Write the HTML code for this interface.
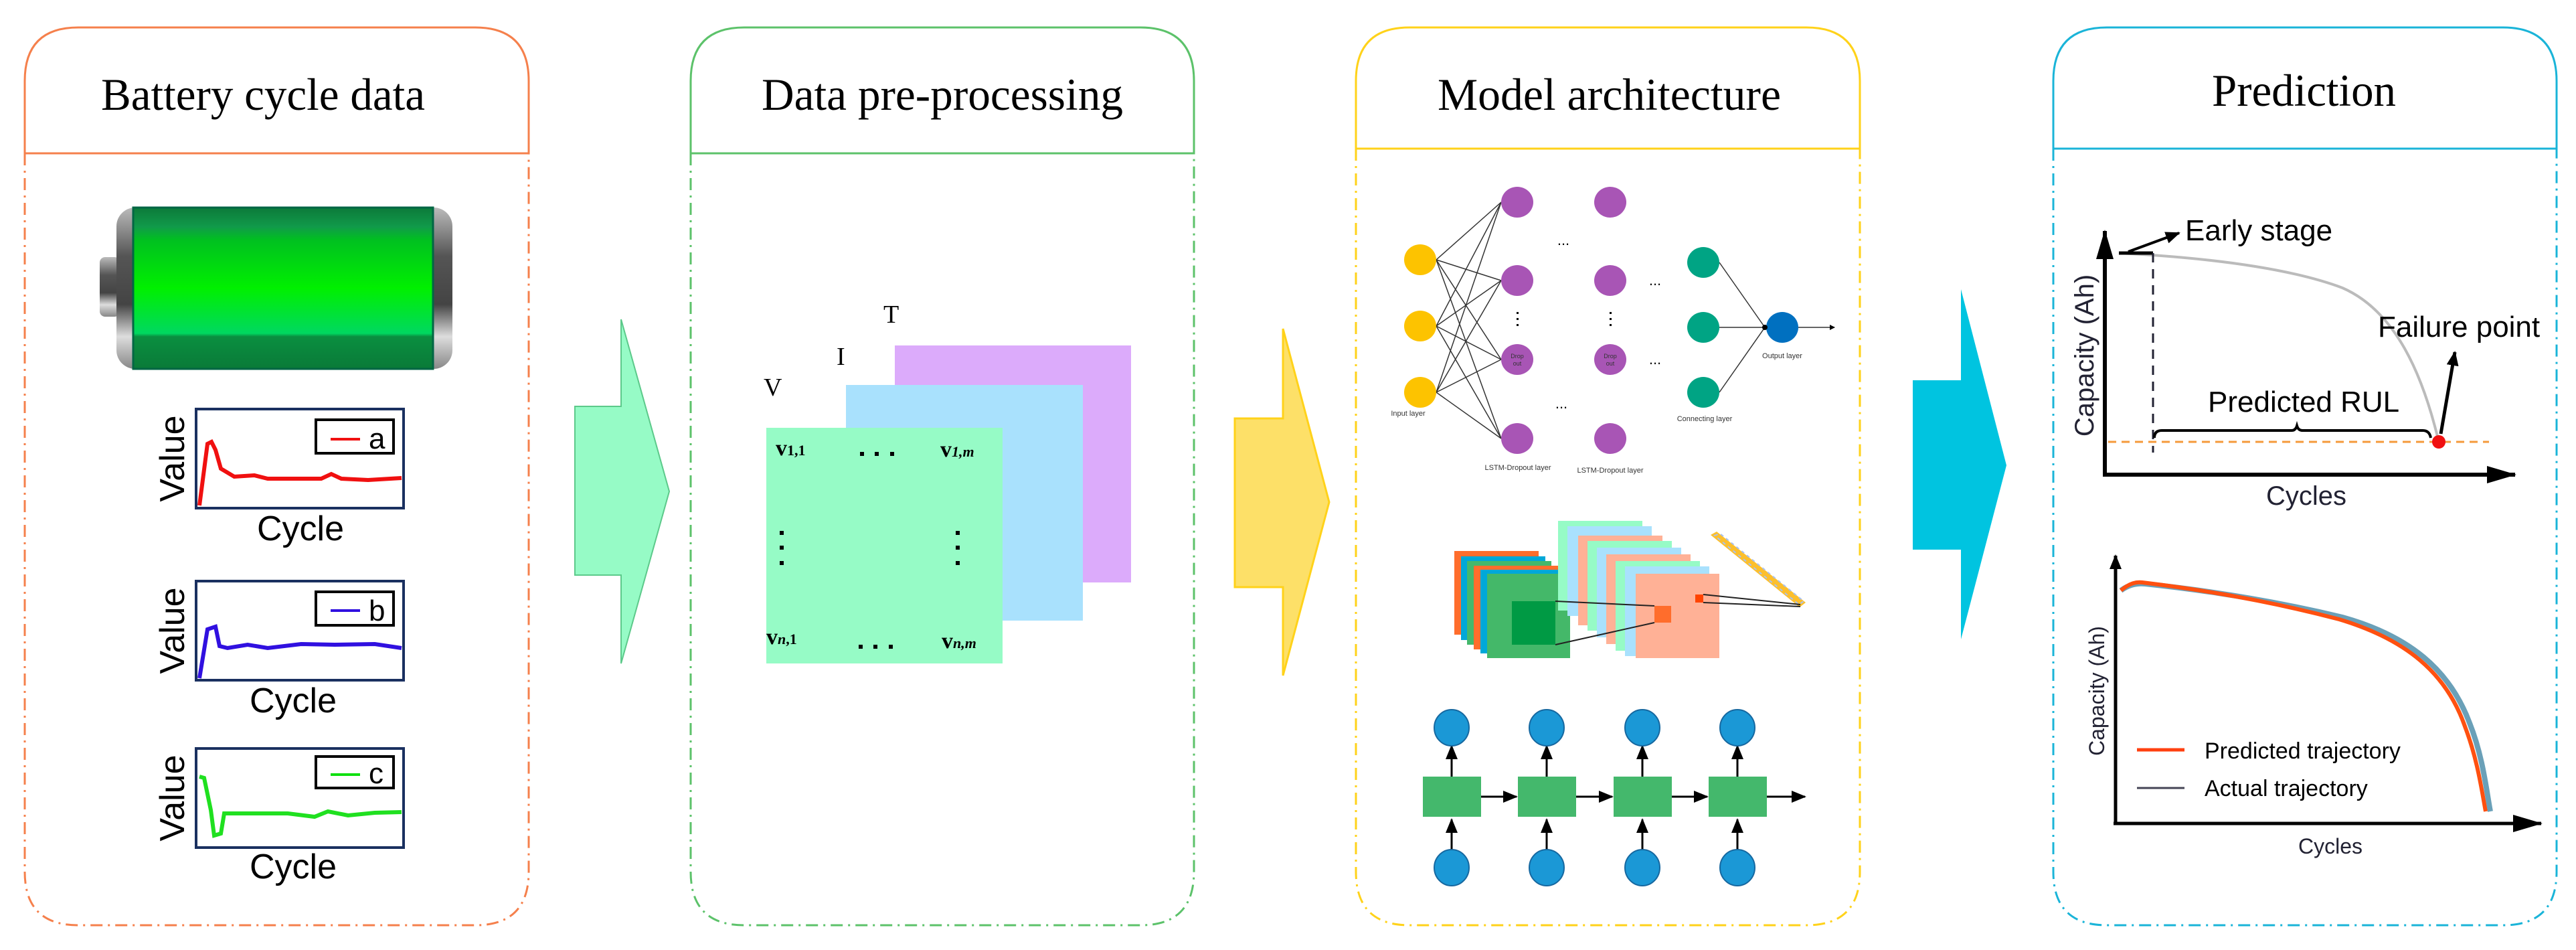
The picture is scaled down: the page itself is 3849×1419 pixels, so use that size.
<!DOCTYPE html>
<html><head><meta charset="utf-8"><style>
html,body{margin:0;padding:0;background:#fff;}
svg{display:block;}
</style></head><body>
<svg width="3849" height="1419" viewBox="0 0 3849 1419" xmlns="http://www.w3.org/2000/svg">
<defs>
<linearGradient id="bg" x1="0" y1="0" x2="0" y2="1">
<stop offset="0" stop-color="#0c7a3a"/><stop offset="0.12" stop-color="#119a4a"/><stop offset="0.2" stop-color="#00c020"/><stop offset="0.5" stop-color="#00f000"/><stop offset="0.78" stop-color="#00d860"/><stop offset="0.8" stop-color="#0a8f40"/><stop offset="1" stop-color="#0a7a38"/>
</linearGradient>
<linearGradient id="cap" x1="0" y1="0" x2="0" y2="1">
<stop offset="0" stop-color="#bbb"/><stop offset="0.3" stop-color="#555"/><stop offset="0.6" stop-color="#444"/><stop offset="0.8" stop-color="#ddd"/><stop offset="1" stop-color="#888"/>
</linearGradient>
<marker id="ah" markerWidth="8" markerHeight="8" refX="7" refY="4" orient="auto" markerUnits="userSpaceOnUse"><path d="M0,0 L8,4 L0,8z" fill="#000"/></marker>
<marker id="ahb" markerWidth="22" markerHeight="18" refX="20" refY="9" orient="auto" markerUnits="userSpaceOnUse"><path d="M0,0 L22,9 L0,18z" fill="#000"/></marker>
<marker id="ahm" markerWidth="44" markerHeight="26" refX="42" refY="13" orient="auto" markerUnits="userSpaceOnUse"><path d="M0,0 L44,13 L0,26z" fill="#000"/></marker>
</defs>

<g fill="none" stroke-width="3">
<g stroke="#f5804c">
<path d="M37,229 V121 Q37,41 117,41 H710 Q790,41 790,121 V229 Z"/>
<path d="M37,229 V1302 Q37,1382 117,1382 H710 Q790,1382 790,1302 V229" stroke-dasharray="18,8,3,8"/>
</g>
<g stroke="#5cc26a">
<path d="M1032,229 V121 Q1032,41 1112,41 H1704 Q1784,41 1784,121 V229 Z"/>
<path d="M1032,229 V1302 Q1032,1382 1112,1382 H1704 Q1784,1382 1784,1302 V229" stroke-dasharray="18,8,3,8"/>
</g>
<g stroke="#ffd21a">
<path d="M2026,222 V121 Q2026,41 2106,41 H2699 Q2779,41 2779,121 V222 Z"/>
<path d="M2026,222 V1302 Q2026,1382 2106,1382 H2699 Q2779,1382 2779,1302 V222" stroke-dasharray="18,8,3,8"/>
</g>
<g stroke="#1ab4d8">
<path d="M3068,222 V121 Q3068,41 3148,41 H3740 Q3820,41 3820,121 V222 Z"/>
<path d="M3068,222 V1302 Q3068,1382 3148,1382 H3740 Q3820,1382 3820,1302 V222" stroke-dasharray="18,8,3,8"/>
</g>
</g>

<g font-family="Liberation Serif, serif" font-size="68" fill="#000">
<text x="151" y="164" textLength="484" lengthAdjust="spacingAndGlyphs">Battery cycle data</text>
<text x="1138" y="164" textLength="540" lengthAdjust="spacingAndGlyphs">Data pre-processing</text>
<text x="2148" y="164" textLength="513" lengthAdjust="spacingAndGlyphs">Model architecture</text>
<text x="3305" y="158" textLength="275" lengthAdjust="spacingAndGlyphs">Prediction</text>
</g>

<path d="M859,607 H928 V477 L1000,734 L928,991 V859 H859 Z" fill="#96fbc6" stroke="#5cc98a" stroke-width="2"/>
<path d="M1845,625 H1917 V491 L1986,750 L1917,1009 V877 H1845 Z" fill="#fde068" stroke="#ffd21a" stroke-width="3"/>
<path d="M2858,568 H2930 V432 L2998,695 L2930,955 V821 H2858 Z" fill="#00c4e0"/>

<rect x="149" y="384" width="30" height="89" rx="8" fill="url(#cap)"/>
<rect x="174" y="310" width="502" height="241" rx="28" fill="url(#cap)"/>
<rect x="199" y="310" width="448" height="241" fill="url(#bg)" stroke="#064" stroke-width="3"/>

<g font-family="Liberation Sans, sans-serif" font-size="52" fill="#000">
<g fill="none" stroke-width="4">
<rect x="293" y="611" width="310" height="148" stroke="#1a3060"/>
<rect x="293" y="868" width="310" height="148" stroke="#1a3060"/>
<rect x="293" y="1118" width="310" height="148" stroke="#1a3060"/>
<rect x="472" y="627" width="116" height="50" stroke="#000"/>
<rect x="472" y="884" width="116" height="50" stroke="#000"/>
<rect x="472" y="1130" width="116" height="47" stroke="#000"/>
<line x1="494" y1="656" x2="538" y2="656" stroke="#f01010"/>
<line x1="494" y1="912" x2="538" y2="912" stroke="#3010e0"/>
<line x1="494" y1="1157" x2="538" y2="1157" stroke="#10e010"/>
<path d="M298,755 L310,663 L316,660 L322,672 L330,700 L350,712 L380,710 L400,715 L440,715 L480,715 L495,708 L510,715 L550,717 L600,714" stroke="#f01010" stroke-width="6"/>
<path d="M298,1013 L310,940 L322,936 L328,965 L340,968 L370,963 L400,968 L450,962 L500,963 L560,962 L600,968" stroke="#3010e0" stroke-width="6"/>
<path d="M298,1160 L305,1162 L315,1210 L320,1248 L330,1245 L335,1215 L380,1215 L430,1215 L470,1220 L490,1212 L520,1218 L560,1214 L600,1213" stroke="#20e020" stroke-width="6"/>
</g>
<text x="551" y="670" font-size="44">a</text>
<text x="551" y="927" font-size="44">b</text>
<text x="551" y="1170" font-size="44">c</text>
<text x="449" y="807" text-anchor="middle">Cycle</text>
<text x="438" y="1064" text-anchor="middle">Cycle</text>
<text x="438" y="1312" text-anchor="middle">Cycle</text>
<text transform="translate(275,685) rotate(-90)" text-anchor="middle">Value</text>
<text transform="translate(275,942) rotate(-90)" text-anchor="middle">Value</text>
<text transform="translate(275,1192) rotate(-90)" text-anchor="middle">Value</text>
</g>

<rect x="1337" y="516" width="353" height="354" fill="#dcabfb"/>
<rect x="1264" y="575" width="354" height="352" fill="#a9e1fd"/>
<rect x="1145" y="639" width="353" height="352" fill="#96fbc6"/>
<g font-family="Liberation Serif, serif" font-size="38" fill="#000">
<text x="1141" y="591">V</text><text x="1250" y="545">I</text><text x="1320" y="482">T</text>
</g>
<g font-family="Liberation Serif, serif" font-weight="bold" fill="#000">
<text x="1159" y="680" font-size="34">v<tspan font-size="22">1,1</tspan></text>
<text x="1405" y="682" font-size="34">v<tspan font-size="22" font-style="italic">1,m</tspan></text>
<text x="1145" y="962" font-size="34">v<tspan font-size="22" font-style="italic">n</tspan><tspan font-size="22">,1</tspan></text>
<text x="1407" y="968" font-size="34">v<tspan font-size="22" font-style="italic">n,m</tspan></text>
</g>
<g fill="#000">
<rect x="1285" y="675" width="6" height="6"/><rect x="1307" y="675" width="6" height="6"/><rect x="1330" y="675" width="6" height="6"/>
<rect x="1283" y="963" width="6" height="6"/><rect x="1305" y="963" width="6" height="6"/><rect x="1328" y="963" width="6" height="6"/>
<rect x="1165" y="793" width="6" height="6"/><rect x="1165" y="815" width="6" height="6"/><rect x="1165" y="838" width="6" height="6"/>
<rect x="1428" y="793" width="6" height="6"/><rect x="1428" y="815" width="6" height="6"/><rect x="1428" y="838" width="6" height="6"/>
</g>

<g stroke="#333" stroke-width="1.5">
<line x1="2146" y1="388" x2="2243" y2="302"/><line x1="2146" y1="388" x2="2243" y2="419"/><line x1="2146" y1="388" x2="2243" y2="537"/><line x1="2146" y1="388" x2="2243" y2="655"/>
<line x1="2146" y1="487" x2="2243" y2="302"/><line x1="2146" y1="487" x2="2243" y2="419"/><line x1="2146" y1="487" x2="2243" y2="537"/><line x1="2146" y1="487" x2="2243" y2="655"/>
<line x1="2146" y1="586" x2="2243" y2="302"/><line x1="2146" y1="586" x2="2243" y2="419"/><line x1="2146" y1="586" x2="2243" y2="537"/><line x1="2146" y1="586" x2="2243" y2="655"/>
<line x1="2569" y1="392" x2="2637" y2="489"/><line x1="2569" y1="489" x2="2637" y2="489"/><line x1="2569" y1="586" x2="2637" y2="489"/>
<line x1="2687" y1="489" x2="2741" y2="489" marker-end="url(#ah)"/>
</g>
<g fill="#fdc300">
<ellipse cx="2122" cy="388" rx="24" ry="23"/><ellipse cx="2122" cy="487" rx="24" ry="23"/><ellipse cx="2122" cy="586" rx="24" ry="23"/>
</g>
<g fill="#a855b5">
<ellipse cx="2267" cy="302" rx="24" ry="23"/><ellipse cx="2267" cy="419" rx="24" ry="23"/><ellipse cx="2267" cy="537" rx="24" ry="23"/><ellipse cx="2267" cy="655" rx="24" ry="23"/>
<ellipse cx="2406" cy="302" rx="24" ry="23"/><ellipse cx="2406" cy="419" rx="24" ry="23"/><ellipse cx="2406" cy="537" rx="24" ry="23"/><ellipse cx="2406" cy="655" rx="24" ry="23"/>
</g>
<g fill="#00a484">
<ellipse cx="2545" cy="392" rx="24" ry="23"/><ellipse cx="2545" cy="489" rx="24" ry="23"/><ellipse cx="2545" cy="586" rx="24" ry="23"/>
</g>
<ellipse cx="2663" cy="489" rx="24" ry="23" fill="#0070c0"/>
<circle cx="2637" cy="489" r="4" fill="#000"/>
<g font-family="Liberation Sans, sans-serif" font-size="22" fill="#000" text-anchor="middle">
<text x="2336" y="366">...</text><text x="2473" y="426">...</text><text x="2473" y="544">...</text><text x="2333" y="610">...</text>
</g>
<g fill="#000"><rect x="2266" y="466" width="3" height="3"/><rect x="2266" y="475" width="3" height="3"/><rect x="2266" y="484" width="3" height="3"/>
<rect x="2405" y="466" width="3" height="3"/><rect x="2405" y="475" width="3" height="3"/><rect x="2405" y="484" width="3" height="3"/></g>
<g font-family="Liberation Sans, sans-serif" font-size="9" fill="#333" text-anchor="middle">
<text x="2267" y="535">Drop</text><text x="2267" y="546">out</text><text x="2406" y="535">Drop</text><text x="2406" y="546">out</text>
</g>
<g font-family="Liberation Sans, sans-serif" font-size="11" fill="#333" text-anchor="middle">
<text x="2104" y="621">Input layer</text><text x="2268" y="702">LSTM-Dropout layer</text><text x="2406" y="706">LSTM-Dropout layer</text>
<text x="2547" y="629">Connecting layer</text><text x="2663" y="535">Output layer</text>
</g>

<rect x="2173" y="823" width="126" height="125" fill="#ff6d2c"/>
<rect x="2183" y="831" width="126" height="125" fill="#00a8d8"/>
<rect x="2192" y="838" width="126" height="125" fill="#44b86c"/>
<rect x="2202" y="845" width="126" height="125" fill="#ff6d2c"/>
<rect x="2212" y="851" width="126" height="125" fill="#00a8d8"/>
<rect x="2222" y="857" width="124" height="126" fill="#44b869"/>
<rect x="2259" y="898" width="65" height="65" fill="#009a44"/>
<rect x="2328" y="778" width="126" height="134" fill="#96fbc6"/>
<rect x="2342" y="786" width="126" height="134" fill="#a9e1fd"/>
<rect x="2358" y="800" width="126" height="134" fill="#ffb196"/>
<rect x="2372" y="808" width="126" height="134" fill="#96fbc6"/>
<rect x="2386" y="818" width="126" height="134" fill="#a9e1fd"/>
<rect x="2400" y="828" width="126" height="134" fill="#ffb196"/>
<rect x="2414" y="838" width="126" height="134" fill="#96fbc6"/>
<rect x="2428" y="846" width="126" height="134" fill="#a9e1fd"/>
<rect x="2444" y="857" width="125" height="126" fill="#ffb196"/>
<rect x="2472" y="905" width="25" height="25" fill="#ff6d2c"/>
<rect x="2533" y="888" width="12" height="12" fill="#ff4400"/>
<path d="M2556,799 L2565,794 L2698,900 L2689,907 Z" fill="#fcbf2c"/>
<path d="M2562,800 L2570,797 L2695,898 L2688,903 Z" fill="none" stroke="#a9c1f0" stroke-width="2" stroke-dasharray="5,5"/>
<g stroke="#222" stroke-width="2" fill="none">
<path d="M2324,898 L2472,905 M2324,963 L2472,930 M2545,888 L2690,903 M2545,900 L2690,906"/>
</g>

<g stroke="#000" stroke-width="3" fill="none">
<line x1="2169" y1="1313" x2="2169" y2="1224" marker-end="url(#ahb)"/>
<line x1="2311" y1="1313" x2="2311" y2="1224" marker-end="url(#ahb)"/>
<line x1="2454" y1="1313" x2="2454" y2="1224" marker-end="url(#ahb)"/>
<line x1="2596" y1="1313" x2="2596" y2="1224" marker-end="url(#ahb)"/>
<line x1="2169" y1="1160" x2="2169" y2="1114" marker-end="url(#ahb)"/>
<line x1="2311" y1="1160" x2="2311" y2="1114" marker-end="url(#ahb)"/>
<line x1="2454" y1="1160" x2="2454" y2="1114" marker-end="url(#ahb)"/>
<line x1="2596" y1="1160" x2="2596" y2="1114" marker-end="url(#ahb)"/>
<line x1="2212" y1="1190" x2="2266" y2="1190" marker-end="url(#ahb)"/>
<line x1="2355" y1="1190" x2="2409" y2="1190" marker-end="url(#ahb)"/>
<line x1="2497" y1="1190" x2="2551" y2="1190" marker-end="url(#ahb)"/>
<line x1="2640" y1="1190" x2="2697" y2="1190" marker-end="url(#ahb)"/>
</g>
<g fill="#44b86c">
<rect x="2126" y="1160" width="87" height="60"/><rect x="2268" y="1160" width="87" height="60"/><rect x="2411" y="1160" width="87" height="60"/><rect x="2553" y="1160" width="87" height="60"/>
</g>
<g fill="#1b98d6" stroke="#1668a0" stroke-width="2">
<ellipse cx="2169" cy="1087" rx="26" ry="27"/><ellipse cx="2311" cy="1087" rx="26" ry="27"/><ellipse cx="2454" cy="1087" rx="26" ry="27"/><ellipse cx="2596" cy="1087" rx="26" ry="27"/>
<ellipse cx="2169" cy="1296" rx="26" ry="27"/><ellipse cx="2311" cy="1296" rx="26" ry="27"/><ellipse cx="2454" cy="1296" rx="26" ry="27"/><ellipse cx="2596" cy="1296" rx="26" ry="27"/>
</g>

<g fill="none">
<path d="M3145,709 V345" stroke="#000" stroke-width="6" marker-end="url(#ahm)"/>
<path d="M3142,709 H3758" stroke="#000" stroke-width="6" marker-end="url(#ahm)"/>
<path d="M3166,378 C3300,385 3420,400 3500,430 C3580,465 3620,560 3644,660" stroke="#bbb" stroke-width="4"/>
<line x1="3166" y1="378" x2="3217" y2="378" stroke="#000" stroke-width="5"/>
<line x1="3180" y1="376" x2="3256" y2="348" stroke="#000" stroke-width="4" marker-end="url(#ahb)"/>
<line x1="3217" y1="378" x2="3217" y2="676" stroke="#223" stroke-width="3" stroke-dasharray="14,10"/>
<line x1="3150" y1="660" x2="3719" y2="660" stroke="#f59a3b" stroke-width="3" stroke-dasharray="12,8"/>
<path d="M3219,654 Q3219,643 3230,643 H3424 Q3430,643 3432,636 Q3434,643 3440,643 H3620 Q3630,643 3632,654" stroke="#000" stroke-width="4"/>
<line x1="3647" y1="648" x2="3668" y2="526" stroke="#000" stroke-width="5" marker-end="url(#ahb)"/>
</g>
<circle cx="3644" cy="660" r="10" fill="#f01010"/>
<g font-family="Liberation Sans, sans-serif" fill="#000">
<text x="3265" y="359" font-size="44">Early stage</text>
<text x="3553" y="503" font-size="44">Failure point</text>
<text x="3299" y="615" font-size="44">Predicted RUL</text>
<text x="3446" y="754" font-size="40" text-anchor="middle" fill="#223">Cycles</text>
<text transform="translate(3128,531) rotate(-90)" font-size="40" text-anchor="middle" fill="#223">Capacity (Ah)</text>
</g>

<g fill="none">
<path d="M3161,1230 V830" stroke="#000" stroke-width="5" marker-end="url(#ahb)"/>
<path d="M3158,1230 H3797" stroke="#000" stroke-width="5" marker-end="url(#ahm)"/>
<path d="M3169,882 Q3185,870 3205,872 C3300,882 3400,898 3500,922 C3600,950 3660,1000 3690,1080 C3710,1130 3715,1180 3721,1212" stroke="#6aa0b8" stroke-width="8"/>
<path d="M3169,882 Q3185,868 3201,870 C3300,882 3400,900 3495,925 C3595,955 3655,1005 3683,1085 C3702,1135 3708,1180 3714,1212" stroke="#ff5010" stroke-width="6"/>
<line x1="3193" y1="1120" x2="3264" y2="1120" stroke="#ff4010" stroke-width="5"/>
<line x1="3193" y1="1177" x2="3264" y2="1177" stroke="#445" stroke-width="3"/>
</g>
<g font-family="Liberation Sans, sans-serif" fill="#000">
<text x="3294" y="1133" font-size="34">Predicted trajectory</text>
<text x="3294" y="1189" font-size="34">Actual trajectory</text>
<text x="3482" y="1275" font-size="32" text-anchor="middle" fill="#223">Cycles</text>
<text transform="translate(3144,1032) rotate(-90)" font-size="32" text-anchor="middle" fill="#223">Capacity (Ah)</text>
</g>
</svg>
</body></html>
